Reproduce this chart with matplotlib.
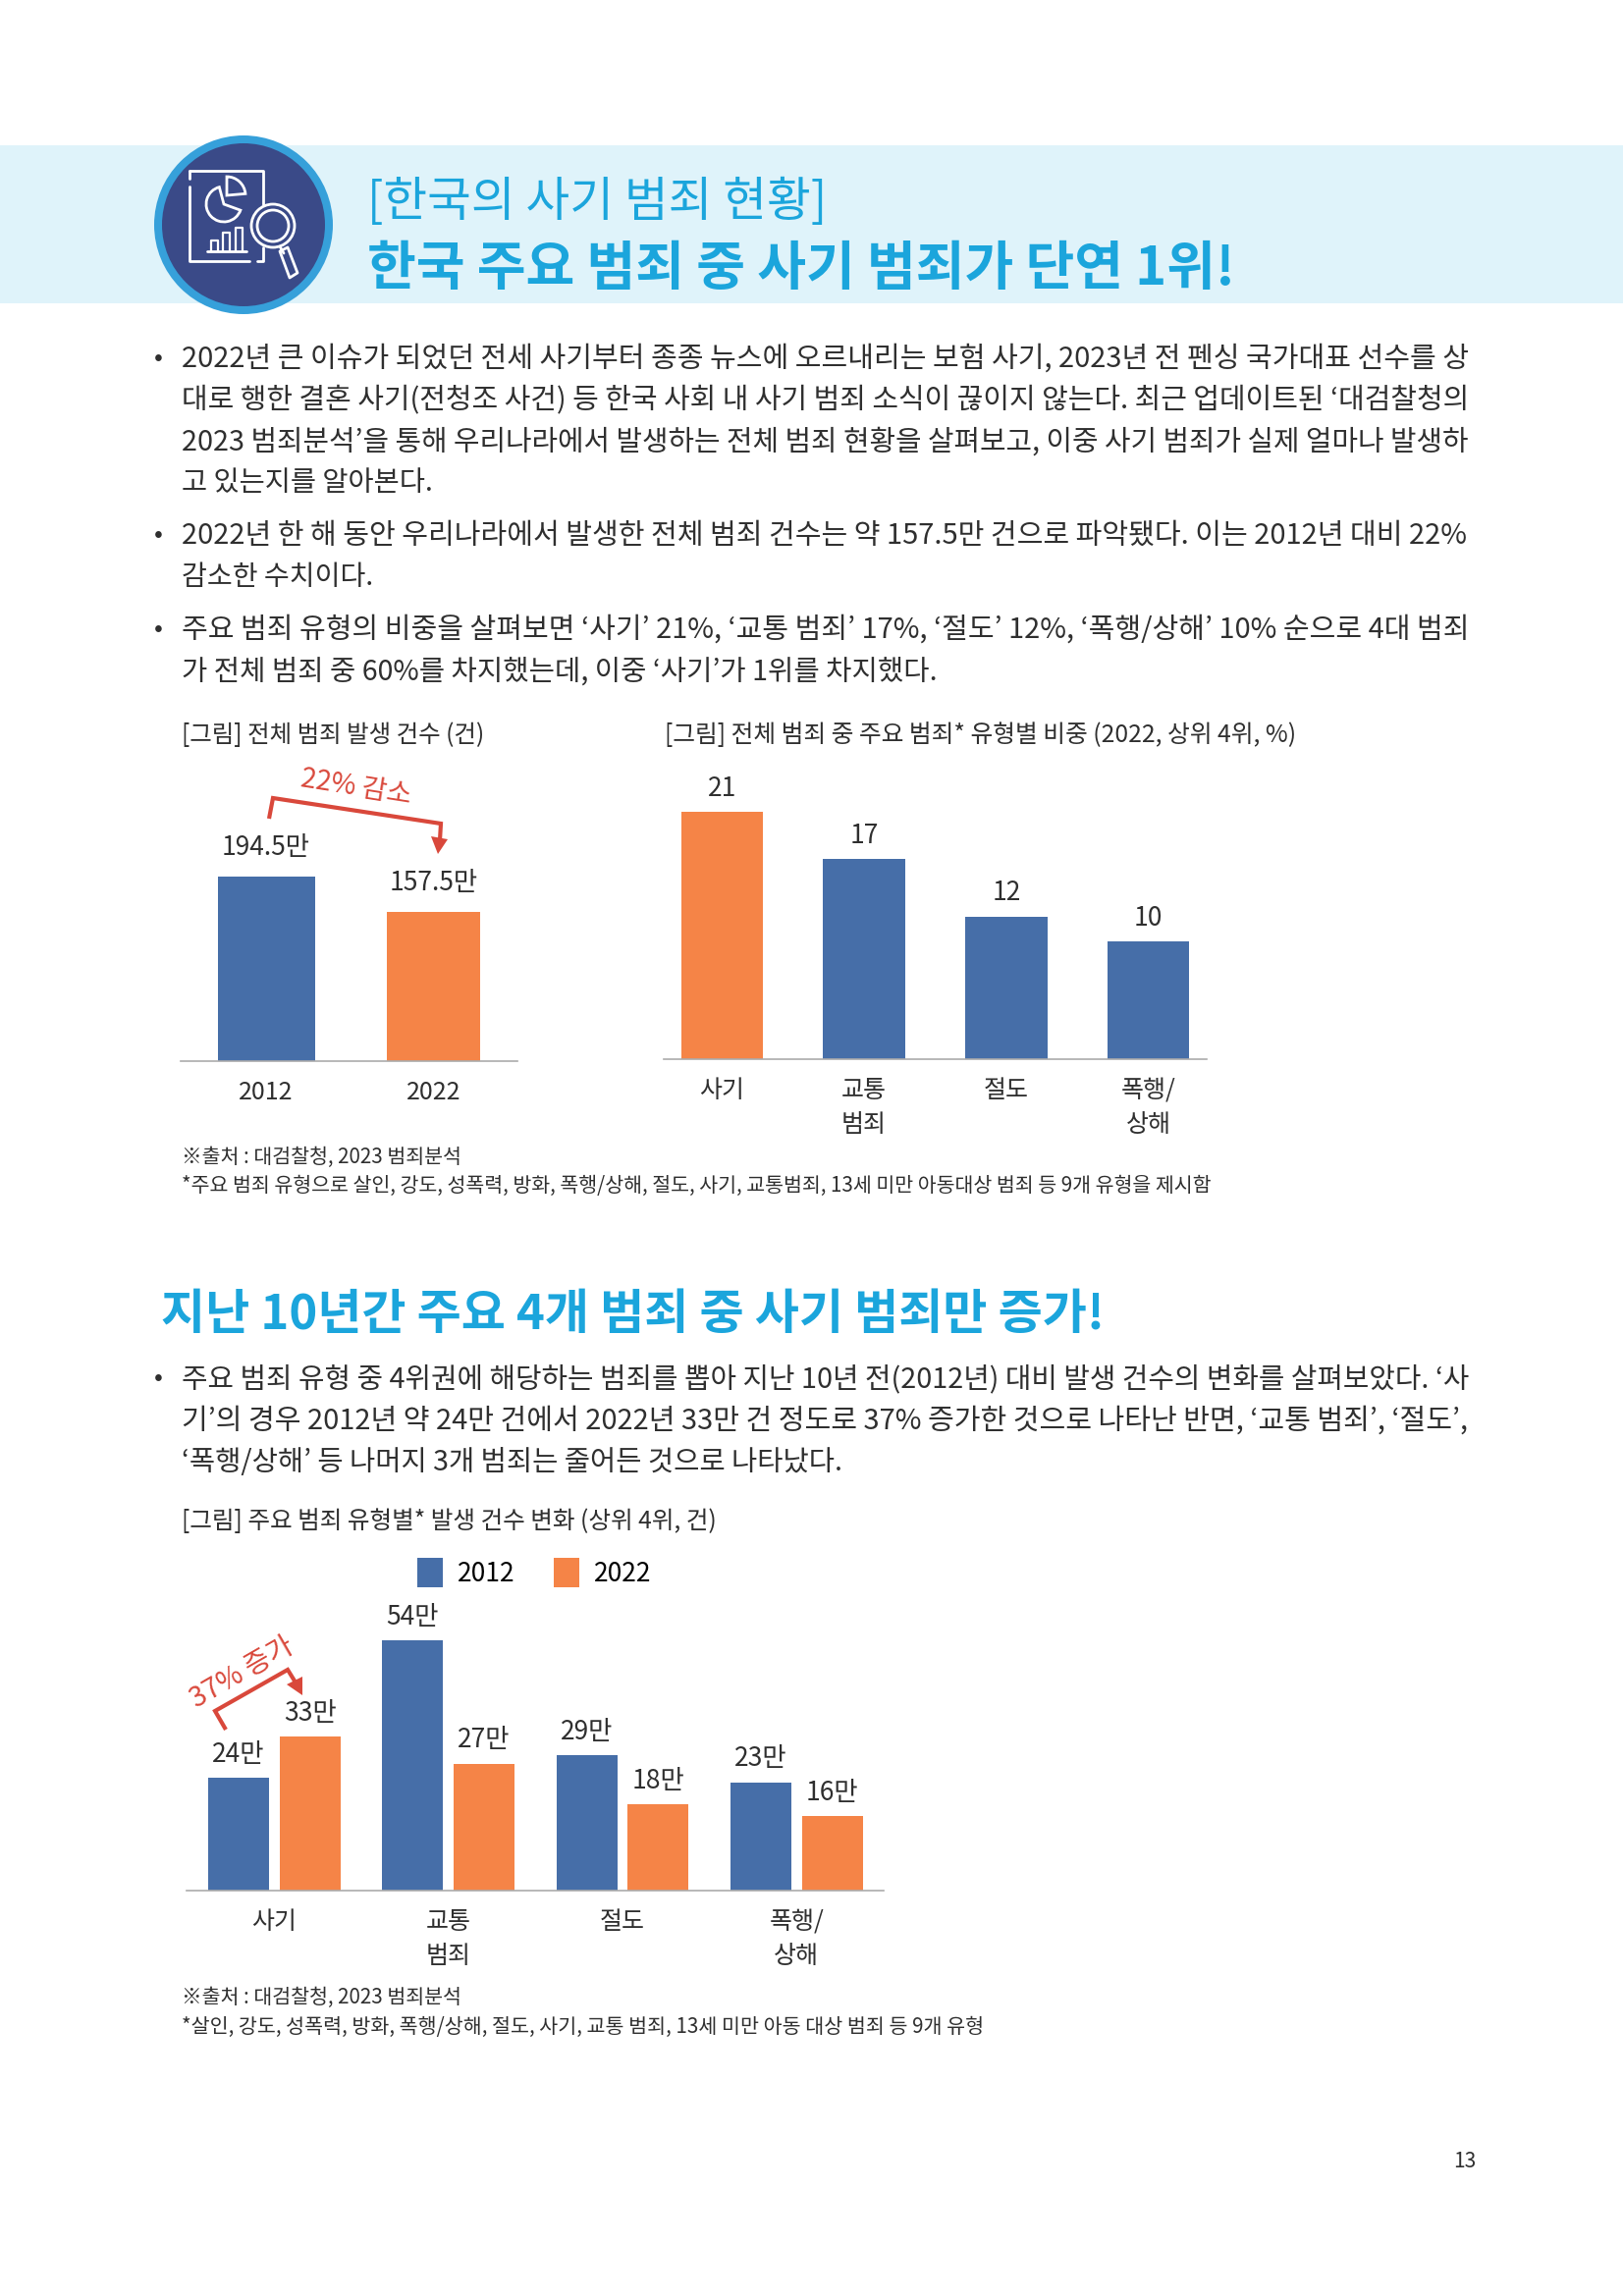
import matplotlib
matplotlib.use('Agg')
import matplotlib.pyplot as plt
from matplotlib.patches import Circle, Rectangle, Polygon, Wedge

plt.rcParams['font.family'] = ['Noto Sans CJK KR', 'DejaVu Sans']

W, H = 1653, 2339
S = W / 1108
BLUE = '#466EA8'
ORANGE = '#F58447'
RED = '#D9483B'
CYAN = '#1BA5DC'
INK = '#2F2F2F'
AXIS = '#ABABAB'
NAVY = '#3A4A88'

# chart data
total_years = ['2012', '2022']
total_values = [194.5, 157.5]
total_labels = ['194.5만', '157.5만']
share_cats = ['사기', '교통\n범죄', '절도', '폭행/\n상해']
share_values = [21, 17, 12.1, 10]
share_labels = ['21', '17', '12', '10']
trend_cats = ['사기', '교통\n범죄', '절도', '폭행/\n상해']
trend_2012 = [24.2, 53.6, 29, 23.2]
trend_2022 = [33, 27.2, 18.5, 16]
trend_2012_labels = ['24만', '54만', '29만', '23만']
trend_2022_labels = ['33만', '27만', '18만', '16만']

# page text lines: text, x0, x1, y in the 1108-wide page reading
body_lines = [
    ('2022년 큰 이슈가 되었던 전세 사기부터 종종 뉴스에 오르내리는 보험 사기, 2023년 전 펜싱 국가대표 선수를 상', 124, 1004, 243),
    ('대로 행한 결혼 사기(전청조 사건) 등 한국 사회 내 사기 범죄 소식이 끊이지 않는다. 최근 업데이트된 ‘대검찰청의', 124, 1004, 271),
    ('2023 범죄분석’을 통해 우리나라에서 발생하는 전체 범죄 현황을 살펴보고, 이중 사기 범죄가 실제 얼마나 발생하', 124, 1004, 300),
    ('고 있는지를 알아본다.', 124, 296, 328),
    ('2022년 한 해 동안 우리나라에서 발생한 전체 범죄 건수는 약 157.5만 건으로 파악됐다. 이는 2012년 대비 22%', 124, 1003, 364),
    ('감소한 수치이다.', 124, 255, 392),
    ('주요 범죄 유형의 비중을 살펴보면 ‘사기’ 21%, ‘교통 범죄’ 17%, ‘절도’ 12%, ‘폭행/상해’ 10% 순으로 4대 범죄', 124, 1004, 428),
    ('가 전체 범죄 중 60%를 차지했는데, 이중 ‘사기’가 1위를 차지했다.', 124, 640, 457),
    ('주요 범죄 유형 중 4위권에 해당하는 범죄를 뽑아 지난 10년 전(2012년) 대비 발생 건수의 변화를 살펴보았다. ‘사', 124, 1004, 940),
    ('기’의 경우 2012년 약 24만 건에서 2022년 33만 건 정도로 37% 증가한 것으로 나타난 반면, ‘교통 범죄’, ‘절도’,', 124, 1004, 968),
    ('‘폭행/상해’ 등 나머지 3개 범죄는 줄어든 것으로 나타났다.', 124, 576, 997),
]
caption_lines = [
    ('[그림] 전체 범죄 발생 건수 (건)', 124, 331, 500),
    ('[그림] 전체 범죄 중 주요 범죄* 유형별 비중 (2022, 상위 4위, %)', 454, 886, 500),
    ('[그림] 주요 범죄 유형별* 발생 건수 변화 (상위 4위, 건)', 124, 490, 1037),
]
note_lines = [
    ('※출처 : 대검찰청, 2023 범죄분석', 124, 315, 788),
    ('*주요 범죄 유형으로 살인, 강도, 성폭력, 방화, 폭행/상해, 절도, 사기, 교통범죄, 13세 미만 아동대상 범죄 등 9개 유형을 제시함', 124, 828, 808),
    ('※출처 : 대검찰청, 2023 범죄분석', 124, 315, 1362),
    ('*살인, 강도, 성폭력, 방화, 폭행/상해, 절도, 사기, 교통 범죄, 13세 미만 아동 대상 범죄 등 9개 유형', 124, 671, 1382),
]
bullet_rows = [243, 364, 428, 940]

fig = plt.figure(figsize=(W / 100, H / 100), dpi=100, facecolor='white')
page = fig.add_axes([0, 0, 1, 1], zorder=5)
page.set_xlim(0, W)
page.set_ylim(H, 0)
page.axis('off')
page.patch.set_alpha(0)
renderer = fig.canvas.get_renderer()


def fit(s, x0, x1, y, size, weight='light', color=INK, dy=2):
    t = page.text(x0 * S, (y + dy) * S, s, fontsize=size, ha='left', va='center', color=color, fontweight=weight)
    w = t.get_window_extent(renderer).width
    t.set_fontsize(size * (x1 - x0) * S / w)
    return t


def make_axes(x0, x1, y_base, y_top):
    ax = fig.add_axes([x0 / W, 1 - y_base / H, (x1 - x0) / W, (y_base - y_top) / H])
    ax.patch.set_alpha(0)
    for side in ['top', 'left', 'right']:
        ax.spines[side].set_visible(False)
    ax.spines['bottom'].set_color(AXIS)
    ax.spines['bottom'].set_linewidth(1.2)
    ax.yaxis.set_visible(False)
    ax.tick_params(axis='x', length=0, pad=14, labelsize=18, labelcolor=INK)
    return ax


# header band and icon
page.add_patch(Rectangle((0, 148), W, 161, fc='#DFF3FA', ec='none'))
page.add_patch(Circle((248, 229), 91, fc='#36A0DA', ec='none'))
page.add_patch(Circle((248, 229), 83, fc=NAVY, ec='none'))
ICON = dict(color='white', lw=2, solid_capstyle='round')
page.plot([193, 193], [182, 174], **ICON)
page.plot([193, 268, 268], [174, 174, 208], **ICON)
page.plot([193, 193, 254], [190, 266, 266], **ICON)
page.plot([262, 268, 268], [266, 266, 252], **ICON)
page.add_patch(Wedge((228, 208), 18, 20, 255, fc='none', ec='white', lw=2))
page.add_patch(Wedge((231, 199), 19, -90, -5, fc='none', ec='white', lw=2))
page.plot([211, 251], [256, 256], **ICON)
for bx, top in [(215, 245), (227, 237), (240, 232)]:
    page.plot([bx, bx, bx + 7, bx + 7], [255, top, top, 255], color='white', lw=1.6)
page.add_patch(Circle((278, 230), 22, fc=NAVY, ec='white', lw=2))
page.add_patch(Circle((278, 230), 16, fc=NAVY, ec='white', lw=2))
page.plot([285, 289], [251, 258], **ICON)
page.add_patch(Polygon([(285, 256), (293, 252), (303, 278), (295, 283)], fc='none', ec='white', lw=2, joinstyle='round'))

fit('[한국의 사기 범죄 현황]', 251, 565, 134, 30, 'light', CYAN, dy=4)
fit('한국 주요 범죄 중 사기 범죄가 단연 1위!', 251, 845, 180, 30, 'bold', CYAN, dy=4)
fit('지난 10년간 주요 4개 범죄 중 사기 범죄만 증가!', 110, 755, 894, 30, 'bold', CYAN, dy=4)

for row in body_lines:
    fit(*row, 21)
for row in caption_lines:
    fit(*row, 18)
for row in note_lines:
    fit(*row, 15)
for y in bullet_rows:
    page.text(108 * S, (y + 1) * S, '•', fontsize=19, ha='center', va='center', color=INK)
page.text(1000 * S, 1476 * S, '13', fontsize=15, ha='center', va='center', color=INK, fontweight='light')

# chart 1
ax1 = make_axes(184, 527, 1081, 839)
ax1.set_xlim(-0.51, 1.5)
ax1.set_ylim(0, 250)
x1 = list(range(len(total_years)))
bars1 = ax1.bar(x1, total_values, width=[0.58, 0.56], color=[BLUE, ORANGE])
ax1.bar_label(bars1, labels=total_labels, padding=11.5, fontsize=19, color=INK)
ax1.set_xticks(x1, total_years)

# chart 2
ax2 = make_axes(676, 1229, 1079, 779)
ax2.set_xlim(-0.41, 3.41)
ax2.set_ylim(0, 25)
x2 = list(range(len(share_cats)))
bars2 = ax2.bar(x2, share_values, width=0.575, color=[ORANGE, BLUE, BLUE, BLUE])
ax2.bar_label(bars2, labels=share_labels, padding=7.5, fontsize=19, color=INK)
ax2.set_xticks(x2, share_cats, linespacing=1.45)

# chart 3
ax3 = make_axes(190, 900, 1926, 1641)
ax3.set_xlim(-0.505, 3.5)
ax3.set_ylim(0, 60)
x3 = list(range(len(trend_cats)))
b3a = ax3.bar([i - 0.205 for i in x3], trend_2012, width=0.35, color=BLUE, label='2012')
b3b = ax3.bar([i + 0.205 for i in x3], trend_2022, width=0.35, color=ORANGE, label='2022')
ax3.bar_label(b3a, labels=trend_2012_labels, padding=7.5, fontsize=19, color=INK)
ax3.bar_label(b3b, labels=trend_2022_labels, padding=7.5, fontsize=19, color=INK)
ax3.set_xticks(x3, trend_cats, linespacing=1.45)
fig.legend(handles=[b3a, b3b], loc='center left', bbox_to_anchor=(425 / W, 1 - 1602 / H), ncol=2,
           frameon=False, fontsize=19, handlelength=0.99, handleheight=1.33, handletextpad=0.56,
           columnspacing=1.5, borderpad=0, borderaxespad=0)

# red callouts
ARROW = dict(color=RED, lw=3.0, solid_joinstyle='miter', solid_capstyle='butt')
page.plot([274, 278, 449, 448], [834, 813, 839, 856], **ARROW)
page.add_patch(Polygon([(439, 852), (456, 855), (446, 870)], fc=RED, ec='none'))
page.text(363, 802, '22% 감소', color=RED, fontsize=20, rotation=-9, rotation_mode='anchor', ha='center', va='center', fontweight='light')
page.plot([230, 219, 293, 301], [1762, 1743, 1701, 1714], **ARROW)
page.add_patch(Polygon([(292, 1716), (308, 1708), (308, 1727)], fc=RED, ec='none'))
page.text(247, 1704, '37% 증가', color=RED, fontsize=20.5, rotation=30, rotation_mode='anchor', ha='center', va='center', fontweight='light')

fig.savefig('out.png', dpi=100, facecolor='white')
